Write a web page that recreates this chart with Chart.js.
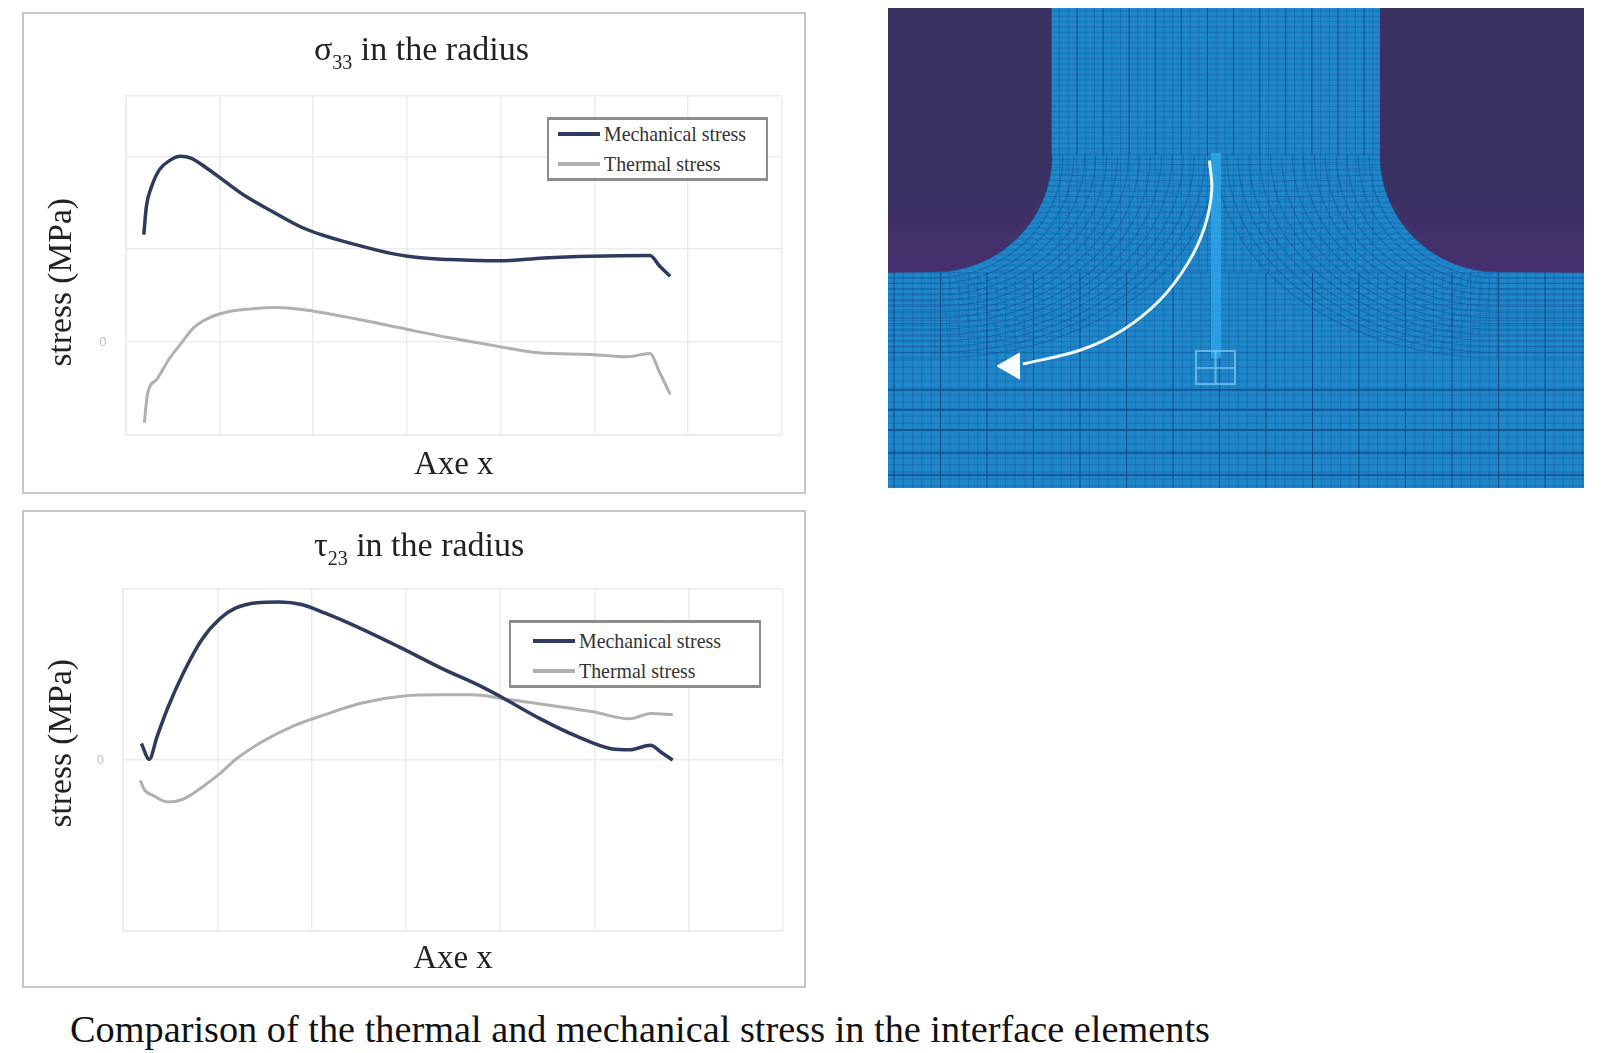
<!DOCTYPE html>
<html>
<head>
<meta charset="utf-8">
<style>
  body { margin: 0; background: #fff; width: 1604px; height: 1053px; position: relative; overflow: hidden; font-family: "Liberation Serif", serif; color: #222; }
  canvas { position: absolute; }
  #meshChart { filter: blur(0.7px); }
  .frame { position: absolute; box-sizing: border-box; border: 2px solid #c6c6c6; }
  .titulo { position: absolute; font-size: 34px; line-height: 36px; white-space: nowrap; }
  .titulo sub { font-size: 20px; line-height: 0; vertical-align: -9px; }
  .caption { position: absolute; left: 70px; top: 1008px; font-size: 38.3px; line-height: 42px; white-space: nowrap; color: #111; }
  .leyenda { position: absolute; box-sizing: border-box; border: 2px solid #8d8d8d; border-top-width: 3px; border-bottom-width: 3px; background: #fff; font-size: 19.9px; color: #333; }
  .leyenda div { position: absolute; white-space: nowrap; line-height: 22px; }
  .leyenda i { position: absolute; height: 4px; }
</style>
</head>
<body>
<div class="frame" style="left:22px;top:12px;width:784px;height:482px"></div>
<div class="frame" style="left:22px;top:510px;width:784px;height:478px"></div>
<canvas id="sigmaChart" style="left:22px;top:12px"></canvas>
<canvas id="tauChart" style="left:22px;top:511px"></canvas>
<canvas id="meshChart" style="left:888px;top:8px"></canvas>
<div class="titulo" style="left:314px;top:31px">σ<sub>33</sub> in the radius</div>
<div class="titulo" style="left:314px;top:527px">τ<sub>23</sub> in the radius</div>
<div class="leyenda" id="leyendaSigma" style="left:547px;top:117px;width:221px;height:64px"></div>
<div class="leyenda" id="leyendaTau" style="left:509px;top:620px;width:252px;height:68px"></div>
<div class="caption">Comparison of the thermal and mechanical stress in the interface elements</div>

<script src="https://cdn.jsdelivr.net/npm/chart.js@4/dist/chart.umd.min.js"></script>
<script>
// Datos (unidades = una celda de la rejilla)
const seriesNames = ['Mechanical stress', 'Thermal stress'];
const seriesColors = ['#2e3a60', '#b0b0b0'];
const xTicks = [0, 1, 2, 3, 4, 5, 6, 7];

const sigmaYTicks = [-1, 0, 1, 2, 2.65];
const sigmaMechX = [0.195, 0.223, 0.279, 0.362, 0.474, 0.585, 0.697, 0.864, 1.059, 1.282, 1.561, 1.895, 2.118, 2.453, 2.843, 3.122, 3.456, 3.986, 4.459, 4.961, 5.591, 5.697, 5.808];
const sigmaMechY = [1.158, 1.462, 1.677, 1.857, 1.957, 2.0, 1.982, 1.875, 1.731, 1.57, 1.409, 1.229, 1.147, 1.05, 0.953, 0.91, 0.889, 0.875, 0.907, 0.925, 0.932, 0.817, 0.71];
const sigmaThermX = [0.201, 0.234, 0.334, 0.474, 0.585, 0.725, 0.892, 1.115, 1.338, 1.616, 2.007, 2.453, 3.01, 3.456, 3.958, 4.404, 4.961, 5.351, 5.591, 5.697, 5.808];
const sigmaThermY = [-0.867, -0.563, -0.401, -0.168, -0.025, 0.154, 0.262, 0.333, 0.358, 0.373, 0.333, 0.251, 0.136, 0.047, -0.043, -0.115, -0.133, -0.158, -0.122, -0.33, -0.563];

const tauYTicks = [-1.84, 0, 1.84];
const tauMechX = [0.195, 0.278, 0.362, 0.473, 0.64, 0.835, 1.03, 1.197, 1.42, 1.643, 1.893, 2.144, 2.478, 2.923, 3.369, 3.814, 4.026, 4.427, 4.816, 5.178, 5.373, 5.596, 5.707, 5.83];
const tauMechY = [0.178, 0.008, 0.254, 0.557, 0.936, 1.295, 1.523, 1.636, 1.693, 1.701, 1.674, 1.58, 1.436, 1.22, 0.992, 0.784, 0.67, 0.443, 0.254, 0.121, 0.11, 0.159, 0.083, 0];
const tauThermX = [0.184, 0.223, 0.334, 0.473, 0.64, 0.835, 1.03, 1.197, 1.475, 1.81, 2.144, 2.533, 2.979, 3.369, 3.703, 4.037, 4.482, 4.983, 5.373, 5.596, 5.83];
const tauThermY = [-0.22, -0.314, -0.39, -0.451, -0.42, -0.295, -0.144, 0.008, 0.197, 0.367, 0.489, 0.614, 0.689, 0.701, 0.701, 0.659, 0.595, 0.519, 0.443, 0.5, 0.489];

// Flecha blanca sobre la malla (en pixeles de la imagen)
const arrowX = [321.4, 323.8, 316.7, 300, 272, 234.8, 192.7, 135];
const arrowY = [152.7, 182, 218.7, 255, 292, 322, 342, 356];
const arrowHeadX = [124];
const arrowHeadY = [358];

const zip = (xs, ys) => xs.map((x, i) => ({ x, y: ys[i] }));

function lineChart(id, axisW, axisH, pad, yTitle, xs, yTicks, mech, therm) {
  return new Chart(document.getElementById(id), {
    type: 'line',
    data: {
      datasets: [
        { label: seriesNames[0], data: mech, borderColor: seriesColors[0], borderWidth: 3.5, pointRadius: 0, cubicInterpolationMode: 'monotone' },
        { label: seriesNames[1], data: therm, borderColor: seriesColors[1], borderWidth: 3, pointRadius: 0, cubicInterpolationMode: 'monotone' }
      ]
    },
    options: {
      responsive: false,
      animation: false,
      layout: { padding: pad },
      plugins: { legend: { display: false }, tooltip: { enabled: false } },
      scales: {
        x: {
          type: 'linear', min: xs[0], max: xs[xs.length - 1],
          afterBuildTicks: s => { s.ticks = xs.map(v => ({ value: v })); },
          afterFit: s => { s.height = axisH; },
          ticks: { display: false },
          grid: { color: '#e9ebef', lineWidth: 1.5, drawTicks: false },
          border: { color: '#e9ebef', width: 1.5 },
          title: { display: true, text: 'Axe x', font: { family: 'Liberation Serif', size: 33 }, color: '#222', padding: { top: 0, bottom: 9 } }
        },
        y: {
          min: yTicks[0], max: yTicks[yTicks.length - 1],
          afterBuildTicks: s => { s.ticks = yTicks.map(v => ({ value: v })); },
          afterFit: s => { s.width = axisW; },
          ticks: {
            callback: v => (v === 0 ? '0' : ''), color: '#c0c0c0', padding: 19,
            font: { family: 'Liberation Sans', size: 13 }
          },
          grid: { color: '#e9ebef', lineWidth: 1.5, drawTicks: false },
          border: { color: '#e9ebef', width: 1.5 },
          title: { display: true, text: yTitle, font: { family: 'Liberation Serif', size: 33.5 }, color: '#222', padding: { top: 20, bottom: 0 } }
        }
      }
    }
  });
}

function canvasSize(id, w, h) {
  const c = document.getElementById(id);
  c.width = w;
  c.height = h;
}

// Leyendas en HTML, con el recuadro de la figura
function llenarLeyenda(id, swatchX, textX, rows) {
  const box = document.getElementById(id);
  seriesNames.forEach((name, i) => {
    const sw = document.createElement('i');
    sw.style.cssText = `left:${swatchX}px;top:${rows[i] - 2}px;width:42px;background:${seriesColors[i]}`;
    const t = document.createElement('div');
    t.textContent = name;
    t.style.cssText = `left:${textX}px;top:${rows[i] - 11}px`;
    box.append(sw, t);
  });
}

// Malla de elementos finitos dibujada en las escalas del grafico
const meshPlugin = {
  id: 'mesh',
  beforeDatasetsDraw(chart) {
    const { ctx, scales: { x, y } } = chart;
    const X = u => x.getPixelForValue(u);
    const Y = v => y.getPixelForValue(v);
    const W = 696, H = 480, colL = 163.6, colR = 492, filV = 147, plateV = 264.7, midU = 328;
    const line = (u0, v0, u1, v1, col, lw) => {
      ctx.strokeStyle = col; ctx.lineWidth = lw;
      ctx.beginPath(); ctx.moveTo(X(u0), Y(v0)); ctx.lineTo(X(u1), Y(v1)); ctx.stroke();
    };
    const fine = 'rgba(18,80,150,0.38)', strong = 'rgba(14,62,125,0.8)';
    ctx.save();
    ctx.fillStyle = '#1f87c9';
    ctx.fillRect(X(0), Y(0), X(W) - X(0), Y(H) - Y(0));

    // columna superior y zona del radio
    for (let v = 3; v < plateV; v += 5.3) line(colL - 60, v, colR + 60, v, fine, 1);
    for (let u = colL + 8, k = 0; u < colR; u += 8.7, k++) {
      line(u, 0, u, filV, k % 3 === 2 ? strong : fine, 1);
      line(u, filV, u, plateV, fine, 1);
    }

    // placa inferior
    for (let v = plateV; v < 345; v += 5.3) line(0, v, W, v, fine, 1);
    for (let v = 345; v < H; v += 7) line(0, v, W, v, fine, 1);
    [382, 402, 422, 445, 467].forEach(v => line(0, v, W, v, strong, 1.3));
    for (let u = 6, k = 0; u < W; u += 9.3, k++) line(u, plateV, u, H, k % 5 === 0 ? strong : fine, 1);

    // lineas curvas del radio, a izquierda y derecha
    [[47, 1, 0], [609, -1, W]].forEach(([cu, dir, edge]) => {
      for (let t = 0; t <= 1.001; t += 1 / 15) {
        const a = 117 + t * 164, b = 117 + t * 86;
        ctx.strokeStyle = 'rgba(14,70,135,0.42)'; ctx.lineWidth = 1.1;
        ctx.beginPath();
        for (let d = 0; d <= 90; d += 3) {
          const r = d * Math.PI / 180;
          const u = cu + dir * a * Math.cos(r), v = filV + b * Math.sin(r);
          d === 0 ? ctx.moveTo(X(u), Y(v)) : ctx.lineTo(X(u), Y(v));
        }
        ctx.lineTo(X(edge), Y(filV + b));
        ctx.stroke();
      }
      for (let d = 0; d <= 90; d += 3) {
        const r = d * Math.PI / 180;
        line(cu + dir * 117 * Math.cos(r), filV + 117 * Math.sin(r), cu + dir * 281 * Math.cos(r), filV + 203 * Math.sin(r), 'rgba(18,80,150,0.28)', 1);
      }
    });

    // zonas oscuras a los lados de la columna
    const grad = ctx.createLinearGradient(0, Y(0), 0, Y(plateV));
    grad.addColorStop(0, '#3a3163'); grad.addColorStop(0.7, '#3a3163'); grad.addColorStop(1, '#47306e');
    ctx.fillStyle = grad;
    ctx.beginPath();
    ctx.moveTo(X(0), Y(0)); ctx.lineTo(X(colL), Y(0)); ctx.lineTo(X(colL), Y(filV));
    ctx.arc(X(47), Y(filV), 117, 0, Math.PI / 2);
    ctx.lineTo(X(0), Y(plateV)); ctx.closePath(); ctx.fill();
    ctx.beginPath();
    ctx.moveTo(X(W), Y(0)); ctx.lineTo(X(colR), Y(0)); ctx.lineTo(X(colR), Y(filV));
    ctx.arc(X(609), Y(filV), 117, Math.PI, Math.PI / 2, true);
    ctx.lineTo(X(W), Y(plateV)); ctx.closePath(); ctx.fill();

    // linea central clara y cuadrito
    line(midU, 145, midU, 350, '#2a9fe2', 10);
    const sq = 'rgba(130,200,240,0.7)';
    ctx.strokeStyle = sq; ctx.lineWidth = 2;
    ctx.strokeRect(X(308), Y(343), 39, 33);
    line(308, 360, 347, 360, sq, 2);
    line(327.5, 343, 327.5, 376, sq, 2);
    ctx.restore();
  }
};

canvasSize('sigmaChart', 784, 482);
canvasSize('tauChart', 784, 477);
canvasSize('meshChart', 696, 480);

// espacios duros para mover el titulo del eje como en la figura
lineChart('sigmaChart', 103.5, 59, { top: 84, right: 24 }, 'stress (MPa)\u00A0\u00A0\u00A0\u00A0', xTicks, sigmaYTicks,
  zip(sigmaMechX, sigmaMechY), zip(sigmaThermX, sigmaThermY));
lineChart('tauChart', 101, 57, { top: 78, right: 23 }, '\u00A0\u00A0\u00A0\u00A0stress (MPa)', xTicks, tauYTicks,
  zip(tauMechX, tauMechY), zip(tauThermX, tauThermY));

new Chart(document.getElementById('meshChart'), {
  type: 'line',
  data: {
    datasets: [
      { data: zip(arrowX, arrowY), borderColor: '#eefaff', borderWidth: 3, pointRadius: 0, tension: 0.35 },
      { data: zip(arrowHeadX, arrowHeadY), pointStyle: 'triangle', pointRotation: -90, pointRadius: 15, backgroundColor: '#f6fcff', borderColor: '#f6fcff', showLine: false }
    ]
  },
  options: {
    responsive: false,
    animation: false,
    layout: { padding: 0, autoPadding: false },
    plugins: { legend: { display: false }, tooltip: { enabled: false } },
    scales: {
      x: { type: 'linear', display: false, min: 0, max: 696 },
      y: { display: false, min: 0, max: 480, reverse: true }
    }
  },
  plugins: [meshPlugin]
});

llenarLeyenda('leyendaSigma', 9, 55, [14, 44]);
llenarLeyenda('leyendaTau', 22, 68, [18, 48]);
</script>
</body>
</html>
